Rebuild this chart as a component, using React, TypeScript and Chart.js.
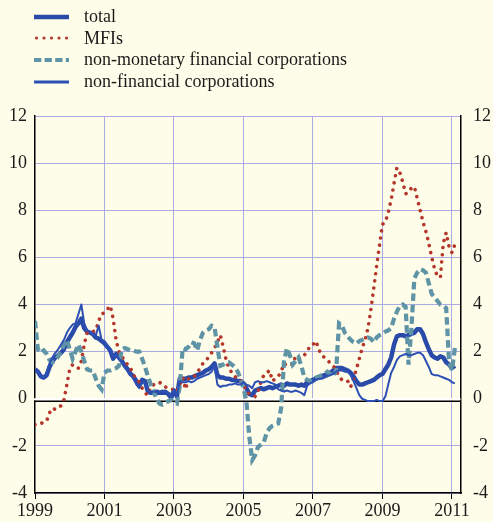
import React, { useEffect, useRef } from "react";
import { Chart, registerables } from "chart.js";

Chart.register(...registerables);

// ---- data (monthly, Jan 1999 .. Feb 2011) ----
const START_YEAR = 1999;
const YEAR_TICKS = [1999, 2001, 2003, 2005, 2007, 2009, 2011];
const Y_MIN = -4;
const Y_MAX = 12;
const Y_STEP = 2;
const X_MAX = 2011.26;

const SERIES_LABELS = [
  "total",
  "MFIs",
  "non-monetary financial corporations",
  "non-financial corporations",
];

const TOTAL = [
  1.25, 1.15, 0.95, 0.9, 1.0, 1.35, 1.6, 1.75, 1.85, 1.95, 2.1, 2.4,
  2.6, 2.8, 3.05, 3.2, 3.4, 3.0, 2.85, 2.8, 2.75, 2.6, 2.55, 2.45,
  2.35, 2.2, 2.05, 1.7, 1.9, 1.75, 1.6, 1.4, 1.25, 1.05, 0.95, 0.75,
  0.55, 0.8, 0.75, 0.3, 0.25, 0.25, 0.3, 0.25, 0.25, 0.3, 0.2, 0.05,
  0.35, 0.1, 0.85, 0.85, 0.85, 0.9, 0.9, 0.95, 1.0, 1.05, 1.1, 1.2,
  1.25, 1.35, 1.5, 1.0, 0.9, 0.9, 0.85, 0.85, 0.8, 0.8, 0.75, 0.75,
  0.65, 0.45, 0.2, 0.15, 0.35, 0.4, 0.45, 0.4, 0.45, 0.5, 0.45, 0.5,
  0.55, 0.6, 0.55, 0.65, 0.6, 0.6, 0.6, 0.55, 0.6, 0.55, 0.7, 0.75,
  0.8, 0.85, 0.9, 0.95, 1.0, 1.05, 1.1, 1.2, 1.3, 1.3, 1.3, 1.25,
  1.2, 1.1, 0.95, 0.75, 0.6, 0.6, 0.65, 0.7, 0.75, 0.8, 0.9, 1.0,
  1.05, 1.25, 1.45, 1.75, 2.3, 2.65, 2.7, 2.7, 2.65, 2.7, 2.75, 2.8,
  2.95, 2.95, 2.75, 2.4, 2.1, 1.85, 1.75, 1.7, 1.8, 1.75, 1.55, 1.45,
  1.3, 1.4,
];

const MFIS = [
  -1.1, -1.1, -1.05, -1.0, -0.95, -0.6, -0.4, -0.45, -0.35, -0.3, -0.05, 0.6,
  1.25, 1.45, 1.35, 1.3, 1.6, 2.3, 2.8, 2.8, 2.85, 2.9, 3.3, 3.6,
  3.65, 3.8, 3.95, 3.4, 2.5, 2.0, 1.8, 1.6, 1.45, 1.3, 1.0, 0.85,
  0.7, 0.45, 0.25, 0.15, 0.5, 0.6, 0.65, 0.7, 0.6, 0.5, 0.45, 0.4,
  0.4, 0.3, 0.6, 0.9, 0.4, 0.85, 0.9, 0.95, 1.1, 1.3, 1.5, 1.65,
  1.75, 1.95, 2.15, 2.4, 2.7, 2.2, 1.65, 1.3, 1.1, 0.95, 0.85, 0.8,
  0.6, 0.35, 0.2, 0.15, 0.1, 0.3, 0.7, 1.0, 1.1, 1.2, 0.75, 0.85,
  0.95, 1.15, 1.5, 1.4, 1.45, 1.45, 1.8, 1.7, 1.7, 1.85, 2.0, 2.25,
  2.3, 2.45, 2.1, 1.85, 1.75, 1.65, 1.5, 1.4, 1.2, 0.95, 0.8, 0.75,
  0.75, 0.5, 0.85, 1.25, 1.7, 2.15, 2.5, 3.0, 3.8, 4.7, 5.65, 6.55,
  7.4, 7.5, 7.9, 8.45, 9.15, 9.8, 9.6, 9.2, 8.7, 8.75, 8.95, 9.0,
  8.5, 8.0, 7.5, 7.1, 6.6, 6.0, 5.5, 5.2, 5.15, 6.6, 7.05, 6.45,
  6.2, 6.55,
];

const NMFC = [
  3.3, 2.1, 1.95, 2.05, 1.9, 1.65, 1.55, 1.6, 1.8, 2.0, 2.3, 2.5,
  2.1, 1.7, 2.0, 2.3, 2.0, 1.6, 1.25, 1.2, 1.2, 0.85, 0.55, 0.4,
  1.1, 1.2, 1.2, 1.25, 1.3, 1.4, 2.1, 2.15, 2.1, 2.05, 2.05, 2.0,
  2.0, 1.7, 1.35, 0.95, 0.6, 0.3, 0.0, -0.2, -0.25, -0.2, -0.1, -0.05,
  -0.15, -0.2, 0.55, 2.15, 2.1, 2.2, 2.4, 2.35, 2.05, 2.5, 2.8, 2.9,
  2.95, 3.1, 3.05, 2.2, 1.4, 1.45, 1.55, 1.55, 1.45, 1.35, 1.15, 0.85,
  0.45, -0.1, -1.6, -2.6, -2.4, -2.05, -1.95, -1.85, -1.45, -1.25, -1.15, -1.1,
  -1.05, -0.4, 1.6, 2.15, 1.85, 1.45, 1.6, 1.75, 1.4, 0.9, 0.8, 0.75,
  0.8, 0.9, 0.95, 1.0, 1.05, 1.15, 1.05, 0.95, 1.2, 3.2, 3.1, 2.8,
  2.65, 2.5, 2.4, 2.35, 2.45, 2.5, 2.55, 2.6, 2.55, 2.4, 2.6, 2.7,
  2.75, 2.85, 2.9, 3.0, 3.4, 3.7, 3.95, 4.0, 3.9, 1.45, 3.0, 5.1,
  5.35, 5.5, 5.45, 5.35, 4.9, 4.45, 4.3, 4.15, 4.0, 3.95, 3.85, 1.55,
  1.2, 2.15,
];

const NFC = [
  1.2, 1.1, 0.95, 0.9, 1.05, 1.5, 1.75, 1.95, 2.1, 2.3, 2.5, 2.8,
  3.0, 3.15, 3.2, 3.6, 4.0, 3.2, 2.9, 2.85, 2.75, 2.7, 3.1, 2.5,
  2.45, 2.25, 2.1, 1.8, 1.85, 1.7, 1.55, 1.35, 1.2, 1.0, 0.85, 0.6,
  0.45, 0.7, 0.65, 0.35, 0.3, 0.3, 0.3, 0.3, 0.35, 0.3, 0.25, 0.1,
  0.4, 0.1, 0.75, 0.7, 0.7, 0.75, 0.7, 0.75, 0.85, 0.9, 0.95, 1.0,
  1.05, 1.15, 1.4, 0.6, 0.5, 0.55, 0.55, 0.6, 0.6, 0.65, 0.6, 0.6,
  0.7, 0.6, 0.55, 0.45, 0.7, 0.75, 0.7, 0.7, 0.75, 0.7, 0.65, 0.6,
  0.4, 0.35, 0.3, 0.35, 0.3, 0.3, 0.35, 0.3, 0.25, 0.15, 0.55, 0.65,
  0.7, 0.8, 0.85, 0.85, 0.9, 0.95, 1.0, 1.05, 1.15, 1.2, 1.2, 1.15,
  1.15, 1.0, 0.75, 0.45, 0.15, 0.0, -0.05, -0.1, -0.1, -0.1, -0.05, -0.1,
  -0.1, 0.1, 0.6, 1.1, 1.35, 1.65, 1.8, 1.85, 1.9, 1.85, 1.85, 1.9,
  1.95, 1.95, 1.85, 1.6, 1.35, 1.05, 1.0, 1.0, 0.95, 0.9, 0.85, 0.8,
  0.7, 0.65,
];

// ---- styles ----
const BG = "#FEFDE9";
const GRID = "#A9ABE2";
const BLUE = "#2A4AAA";
const BLUE_THIN = "#2D50B4";
const RED = "#B5372C";
const TEAL = "#5F93A6";
const FONT = '"Liberation Serif", "Times New Roman", serif';

const toPoints = (arr: number[]) =>
  arr.map((v, i) => ({ x: START_YEAR + i / 12, y: v }));

const zeroLinePlugin = {
  id: "zeroLine",
  beforeDatasetsDraw(chart: any) {
    const { ctx, chartArea, scales } = chart;
    const y0 = scales.y.getPixelForValue(0);
    ctx.save();
    ctx.fillStyle = "#ffffff";
    ctx.fillRect(chartArea.left - 1.5, y0 - 0.5, chartArea.right - chartArea.left + 1, 2);
    ctx.fillStyle = "#000000";
    ctx.fillRect(chartArea.left, y0 + 1.75, chartArea.right - chartArea.left, 1.5);
    ctx.restore();
  },
};

function LegendSample({ kind }: { kind: number }) {
  if (kind === 0)
    return (
      <svg width={36} height={10}>
        <line x1={0} y1={5} x2={35} y2={5} stroke={BLUE} strokeWidth={4.5} />
      </svg>
    );
  if (kind === 1)
    return (
      <svg width={36} height={10}>
        <line x1={2.5} y1={5} x2={34} y2={5} stroke={RED} strokeWidth={3.2}
          strokeLinecap="round" strokeDasharray="0.01 7.5" />
      </svg>
    );
  if (kind === 2)
    return (
      <svg width={36} height={10}>
        <line x1={0} y1={5} x2={35} y2={5} stroke={TEAL} strokeWidth={4}
          strokeDasharray="7.3 3.3" />
      </svg>
    );
  return (
    <svg width={36} height={10}>
      <line x1={0} y1={5} x2={35} y2={5} stroke={BLUE_THIN} strokeWidth={3} />
    </svg>
  );
}

export default function App() {
  const canvasRef = useRef<HTMLCanvasElement | null>(null);

  useEffect(() => {
    if (!canvasRef.current) return;
    const tickFont = { family: FONT, size: 18 };
    const chart = new Chart(canvasRef.current, {
      type: "line",
      data: {
        datasets: [
          {
            label: SERIES_LABELS[0],
            data: toPoints(TOTAL),
            borderColor: BLUE,
            borderWidth: 4.5,
            pointRadius: 0,
            borderJoinStyle: "round",
            order: 4,
          },
          {
            label: SERIES_LABELS[1],
            data: toPoints(MFIS),
            borderColor: RED,
            borderWidth: 3.6,
            borderDash: [0.01, 7.2],
            borderCapStyle: "round",
            pointRadius: 0,
            order: 3,
          },
          {
            label: SERIES_LABELS[2],
            data: toPoints(NMFC),
            borderColor: TEAL,
            borderWidth: 4.2,
            borderDash: [7.5, 4],
            pointRadius: 0,
            order: 2,
          },
          {
            label: SERIES_LABELS[3],
            data: toPoints(NFC),
            borderColor: BLUE_THIN,
            borderWidth: 2,
            pointRadius: 0,
            borderJoinStyle: "round",
            order: 1,
          },
        ],
      },
      options: {
        responsive: false,
        animation: false,
        events: [],
        layout: { padding: { top: 116, left: 0, right: 0, bottom: 0 } },
        plugins: {
          legend: { display: false },
          tooltip: { enabled: false },
        },
        scales: {
          x: {
            type: "linear",
            min: START_YEAR,
            max: X_MAX,
            afterBuildTicks: (s: any) => {
              s.ticks = YEAR_TICKS.map((v) => ({ value: v }));
            },
            afterFit: (s: any) => {
              s.height = 29;
            },
            grid: {
              color: (c: any) =>
                c.tick && c.tick.value === START_YEAR ? "rgba(0,0,0,0)" : GRID,
              tickColor: "#000",
              tickLength: 6,
              lineWidth: 1,
            },
            border: { color: "#000", width: 1.5 },
            ticks: {
              font: tickFont,
              color: "#1a1a1a",
              padding: 1,
              maxRotation: 0,
              autoSkip: false,
              callback: (v: any) => String(v),
            },
          },
          y: {
            position: "left",
            min: Y_MIN,
            max: Y_MAX,
            afterFit: (s: any) => {
              s.width = 35;
            },
            grid: {
              color: (c: any) =>
                c.tick && c.tick.value === 0 ? "rgba(0,0,0,0)" : GRID,
              drawTicks: false,
              lineWidth: 1,
            },
            border: { color: "#000", width: 1.5 },
            ticks: {
              stepSize: Y_STEP,
              font: tickFont,
              color: "#1a1a1a",
              padding: 8,
            },
          },
          y2: {
            position: "right",
            min: Y_MIN,
            max: Y_MAX,
            afterFit: (s: any) => {
              s.width = 32;
            },
            grid: { drawOnChartArea: false, drawTicks: false },
            border: { color: "#000", width: 1.5 },
            ticks: {
              stepSize: Y_STEP,
              font: tickFont,
              color: "#1a1a1a",
              padding: 12,
            },
          },
        },
      },
      plugins: [zeroLinePlugin],
    } as any);
    return () => chart.destroy();
  }, []);

  return (
    <div
      style={{
        position: "fixed",
        left: 0,
        top: 0,
        width: 493,
        height: 522,
        background: BG,
        overflow: "hidden",
      }}
    >
      <canvas
        ref={canvasRef}
        width={493}
        height={522}
        style={{ position: "absolute", left: 0, top: 0 }}
      />
      {SERIES_LABELS.map((label, i) => (
        <div
          key={label}
          style={{
            position: "absolute",
            left: 34,
            top: 6 + i * 21.7,
            height: 21,
            display: "flex",
            alignItems: "center",
            whiteSpace: "nowrap",
            fontFamily: FONT,
            fontSize: 18,
            color: "#1a1a1a",
          }}
        >
          <LegendSample kind={i} />
          <span style={{ marginLeft: 14 }}>{label}</span>
        </div>
      ))}
    </div>
  );
}
